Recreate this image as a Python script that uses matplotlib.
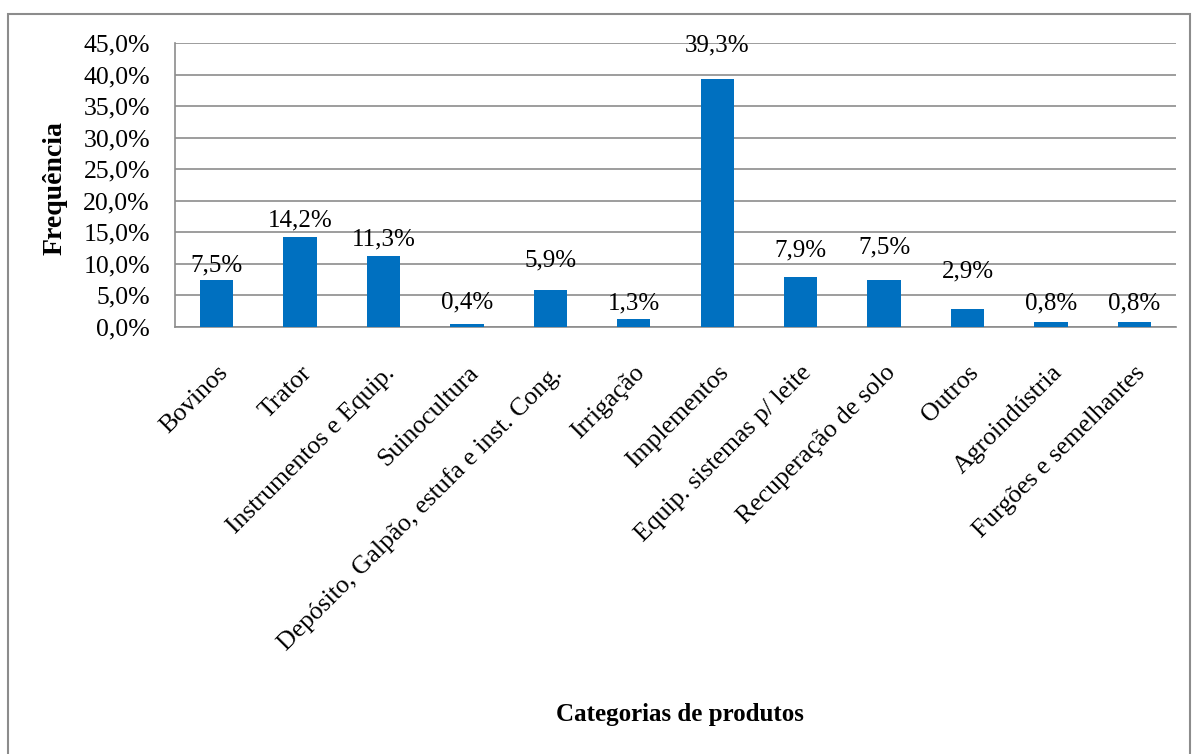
import matplotlib
matplotlib.use("Agg")
import matplotlib.pyplot as plt
from matplotlib.patches import Rectangle

categories = ["Bovinos", "Trator", "Instrumentos e Equip.", "Suinocultura",
              "Depósito, Galpão, estufa e inst. Cong.", "Irrigação", "Implementos",
              "Equip. sistemas p/ leite", "Recuperação de solo", "Outros",
              "Agroindústria", "Furgões e semelhantes"]
values = [7.5, 14.2, 11.3, 0.4, 5.9, 1.3, 39.3, 7.9, 7.5, 2.9, 0.8, 0.8]
yticks = [0, 5, 10, 15, 20, 25, 30, 35, 40, 45]

# layout: gap (px) between bar top and label baseline, as placed in the original
label_gap_px = [8, 11, 10, 16, 23, 9, 28, 21, 26, 31, 12, 12]

plt.rcParams['font.family'] = ['Liberation Serif', 'DejaVu Serif']

W, H = 1198, 754
fig = plt.figure(figsize=(W/100, H/100), dpi=100)
ax = fig.add_axes([175/W, 1-327/H, (1176-175)/W, (327-43)/H])

x = list(range(len(values)))
ax.bar(x, values, width=0.40, color='#0070C0', zorder=3)
ax.set_xlim(-0.5, len(values)-0.5)
ax.set_ylim(0, 45)
ax.set_yticks(yticks)
ax.set_yticklabels([f"{v:.1f}%".replace('.', ',') for v in yticks], fontsize=18.5)
ax.yaxis.grid(True, color='#8c8c8c', linewidth=1.2, zorder=0)
ax.tick_params(axis='both', length=0)
ax.tick_params(axis='y', pad=18)
ax.set_xticks(x)
ax.set_xticklabels(categories, rotation=45, ha='right', rotation_mode='anchor', fontsize=18.5)
ax.tick_params(axis='x', pad=25)
for s in ['top', 'right']:
    ax.spines[s].set_visible(False)
for s in ['left', 'bottom']:
    ax.spines[s].set_color('#8c8c8c')
    ax.spines[s].set_linewidth(1.2)

for xi, v, g in zip(x, values, label_gap_px):
    ax.annotate(f"{v:.1f}%".replace('.', ','), (xi, v), xytext=(0, g*0.72),
                textcoords='offset points', ha='center', va='baseline', fontsize=18)

fig.text(55/W, 1-188/H, "Frequência", fontsize=20, fontweight='bold',
         ha='center', va='center', rotation=90)
fig.text(680/W, 1-715/H, "Categorias de produtos", fontsize=18, fontweight='bold',
         ha='center', va='center')

fig.patches.append(Rectangle((8/W, -10/H), (1190-8)/W, (754-14+10)/H, transform=fig.transFigure,
                             fill=False, edgecolor='#8c8c8c', linewidth=1.5))

fig.savefig("out.png", dpi=100)
